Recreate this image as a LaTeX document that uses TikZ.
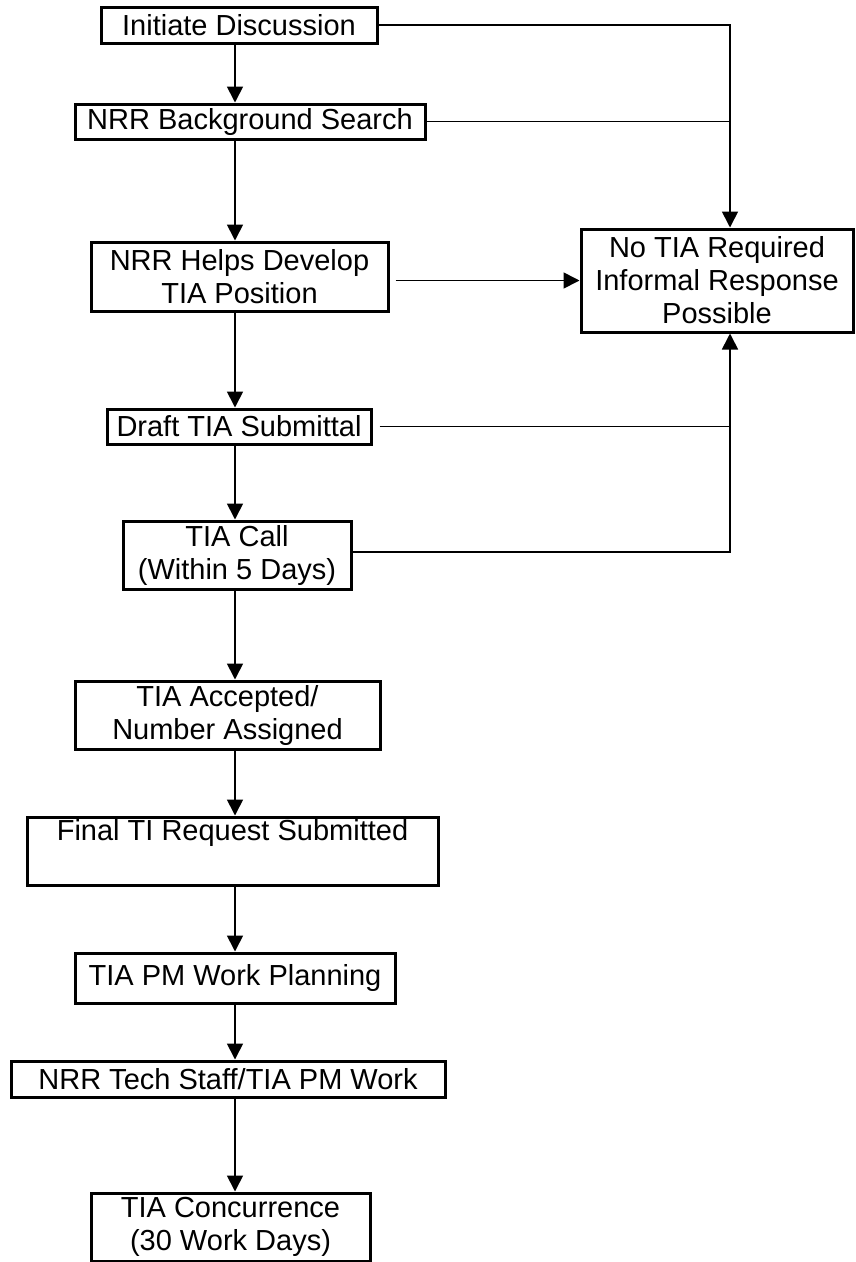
\documentclass[tikz,border=0pt]{standalone}
\usepackage{fontspec}
\setmainfont{Liberation Sans}
\usetikzlibrary{arrows.meta}

\begin{document}
\begin{tikzpicture}[x=1pt, y=-1pt, >={Triangle[length=16pt, width=16pt]}, line width=1.7pt,
	box/.style={draw, rectangle, line width=3pt, inner sep=0pt, align=center, font=\fontsize{29}{33}\selectfont}]
\useasboundingbox (0, 0) rectangle (855, 1262);
\coordinate (spine) at (235, 0);
\coordinate (rail) at (730, 0);

% main column
\node [box, minimum width=276pt, minimum height=36pt] (init) at (239, 25) {Initiate Discussion};
\node [box, minimum width=350pt, minimum height=35pt] (bg) at (250, 121.5) {NRR Background Search};
\node [box, minimum width=297pt, minimum height=69pt] (helps) at (239.5, 276.5) {NRR Helps Develop\\TIA Position};
\node [box, minimum width=264pt, minimum height=35pt] (draft) at (239, 426.5) {Draft TIA Submittal};
\node [box, minimum width=228pt, minimum height=68pt] (call) at (237, 555) {TIA Call\\(Within 5 Days)};
\node [box, minimum width=305pt, minimum height=68pt] (accept) at (227.5, 715) {TIA Accepted/\\Number Assigned};
\node [box, minimum width=411pt, minimum height=68pt] (final) at (232.5, 851) {Final TI Request Submitted\\ \strut};
\node [box, minimum width=320pt, minimum height=50pt] (plan) at (235, 978) {TIA PM Work Planning};
\node [box, minimum width=434pt, minimum height=36pt] (work) at (228, 1079) {NRR Tech Staff/TIA PM Work};
\node [box, minimum width=279pt, minimum height=68pt] (concur) at (230.5, 1227) {TIA Concurrence\\(30 Work Days)};

% side exit
\node [box, minimum width=272pt, minimum height=103pt] (notia) at (717, 280.5) {No TIA Required\\Informal Response\\Possible};

\draw [->] (init.south -| spine) -- (bg.north -| spine);
\draw [->] (bg.south -| spine) -- (helps.north -| spine);
\draw [->] (helps.south -| spine) -- (draft.north -| spine);
\draw [->] (draft.south -| spine) -- (call.north -| spine);
\draw [->] (call.south -| spine) -- (accept.north -| spine);
\draw [->] (accept.south -| spine) -- (final.north -| spine);
\draw [->] (final.south -| spine) -- (plan.north -| spine);
\draw [->] (plan.south -| spine) -- (work.north -| spine);
\draw [->] (work.south -| spine) -- (concur.north -| spine);

\draw [->] (init.east) -- (init.east -| rail) -- (notia.north -| rail);
\draw [] (bg.east) -- (bg.east -| rail);
\draw [->, shorten <= 6pt] (notia.west -| helps.east) -- (notia.west);
\draw [shorten <= 7pt] (draft.east) -- (draft.east -| rail);
\draw [->] ([yshift=3pt]call.east) -- ([yshift=3pt]call.east -| rail) -- (notia.south -| rail);
\end{tikzpicture}
\end{document}
